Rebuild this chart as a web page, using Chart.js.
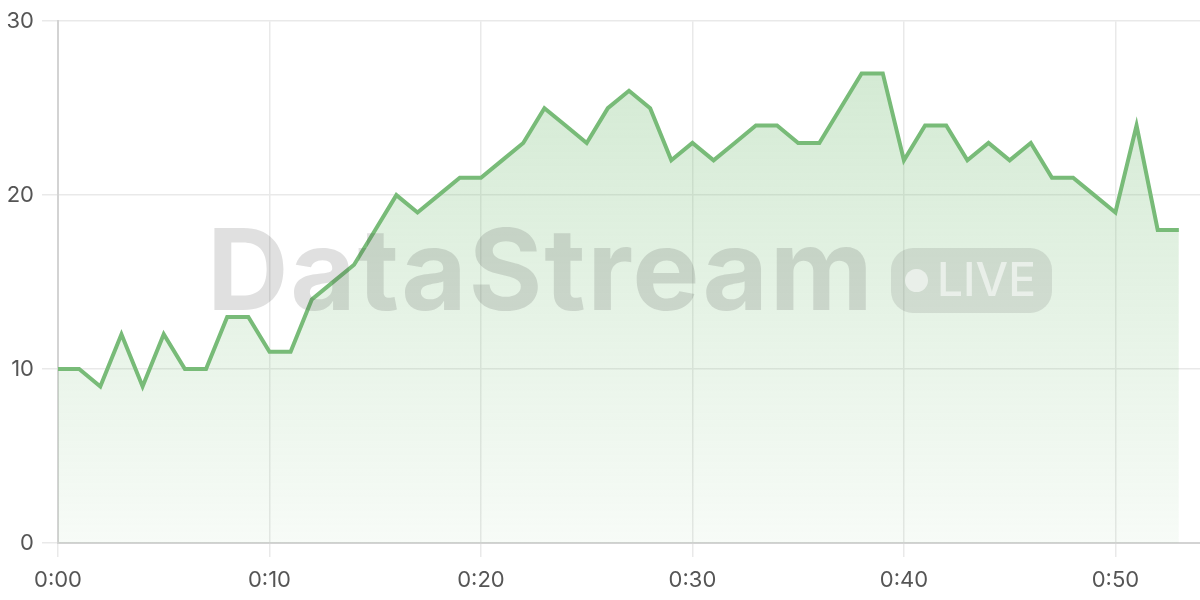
<!DOCTYPE html>
<html>
<head>
<meta charset="utf-8">
<script src="https://cdn.jsdelivr.net/npm/chart.js@4/dist/chart.umd.min.js"></script>
<style>
    html, body { margin: 0; padding: 0; background: #fff; }
    .wrap { position: relative; width: 1200px; height: 600px; }
    .wm-name {
        position: absolute; left: 207px; top: 213px; line-height: 1;
        font-family: Inter, "Noto Sans", sans-serif;
        font-size: 113px; font-weight: 700; letter-spacing: 1.7px;
        color: rgba(60, 60, 60, 0.16); pointer-events: none;
    }
    .wm-live {
        position: absolute; left: 891px; top: 248px; width: 161px; height: 65px;
        border-radius: 22px; background: rgba(60, 60, 60, 0.12); pointer-events: none;
        font-family: Inter, "Noto Sans", sans-serif;
    }
    .wm-live .dot {
        position: absolute; left: 14px; top: 21px; width: 23px; height: 23px;
        border-radius: 50%; background: rgba(255, 255, 255, 0.55);
    }
    .wm-live .txt {
        position: absolute; left: 46px; top: 8px; line-height: 1;
        font-size: 46px; font-weight: 500; color: rgba(255, 255, 255, 0.55);
    }
</style>
</head>
<body>
<div class="wrap">
    <canvas id="chart" width="1200" height="600"></canvas>
    <div class="wm-name">DataStream</div>
    <div class="wm-live"><span class="dot"></span><span class="txt">LIVE</span></div>
</div>
<script>
// minutes since start and observed value
const minutes = [0,1,2,3,4,5,6,7,8,9,10,11,12,13,14,15,16,17,18,19,20,21,22,23,24,25,26,
    27,28,29,30,31,32,33,34,35,36,37,38,39,40,41,42,43,44,45,46,47,48,49,50,51,52,53];
const values = [10,10,9,12,9,12,10,10,13,13,11,11,14,15,16,18,20,19,20,21,21,22,23,25,24,23,25,
    26,25,22,23,22,23,24,24,23,23,25,27,27,22,24,24,22,23,22,23,21,21,20,19,24,18,18];
const xTicks = [0, 10, 20, 30, 40, 50];
const yTicks = [0, 10, 20, 30];

document.addEventListener("DOMContentLoaded", () => {
    const ctx = document.getElementById("chart").getContext("2d");

    const fillGradient = (context) => {
        const area = context.chart.chartArea;
        if (!area) return "rgba(120, 190, 120, 0.2)";
        const g = context.chart.ctx.createLinearGradient(0, area.top, 0, area.bottom);
        g.addColorStop(0, "rgba(120, 190, 120, 0.35)");
        g.addColorStop(1, "rgba(120, 190, 120, 0.06)");
        return g;
    };

    new Chart(ctx, {
        type: "line",
        data: {
            datasets: [{
                data: minutes.map((m, i) => ({ x: m, y: values[i] })),
                borderColor: "#78bb78",
                borderWidth: 4,
                backgroundColor: fillGradient,
                fill: "origin",
                pointRadius: 0,
                tension: 0,
            }],
        },
        options: {
            responsive: false,
            animation: false,
            layout: { padding: { top: 10, right: 0, left: 0, bottom: 0 } },
            plugins: { legend: { display: false }, tooltip: { enabled: false } },
            scales: {
                x: {
                    type: "linear",
                    min: 0,
                    max: 54,
                    afterBuildTicks: (axis) => { axis.ticks = xTicks.map(v => ({ value: v })); },
                    afterFit: (axis) => { axis.height = 57; },
                    ticks: {
                        color: "#555",
                        font: { family: "Inter, 'Noto Sans', sans-serif", size: 22 },
                        padding: 10,
                        maxRotation: 0,
                        callback: (v) => "0:" + String(v).padStart(2, "0"),
                    },
                    grid: { color: "#e9e9e9", lineWidth: 1.5, tickLength: 14 },
                    border: { color: "#d3d3d3", width: 2 },
                },
                y: {
                    min: 0,
                    max: 30,
                    afterBuildTicks: (axis) => { axis.ticks = yTicks.map(v => ({ value: v })); },
                    afterFit: (axis) => { axis.width = 58; },
                    ticks: {
                        color: "#555",
                        font: { family: "Inter, 'Noto Sans', sans-serif", size: 22 },
                        padding: 8,
                    },
                    grid: { color: "#e9e9e9", lineWidth: 1.5, tickLength: 16 },
                    border: { color: "#d3d3d3", width: 2 },
                },
            },
        },
    });
});
</script>
</body>
</html>
